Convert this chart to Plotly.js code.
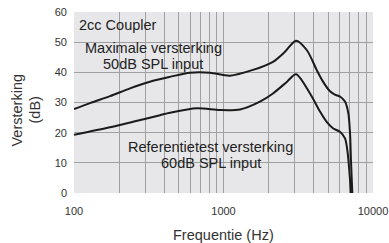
<!DOCTYPE html>
<html>
<head>
<meta charset="utf-8">
<script src="https://cdn.plot.ly/plotly-3.0.1.min.js"></script>
<style>
html,body{margin:0;padding:0;background:#fff;}
#chart{width:389px;height:243px;}
</style>
</head>
<body>
<div id="chart"></div>
<script>
// Maximale versterking (50dB SPL input)
const freqMax = [100,128,174,237,322,438,597,812,1104,1573,2143,2576,3055,3604,4201,4620,5137,5560,6010,6497,6840,7020,7120,7270];
const dbMax   = [27.8,29.8,32.1,34.7,36.9,38.5,39.9,39.9,38.9,40.8,43.5,46.8,50.5,47.4,40.8,37.0,33.8,32.6,32.0,30.3,26.4,19.8,11.0,0];
// Referentietest versterking (60dB SPL input)
const freqRef = [100,174,248,376,438,665,948,1290,1753,2143,2661,3055,3791,4420,4899,5423,6010,6497,6730,6940,7120];
const dbRef   = [19.3,21.8,23.6,25.8,26.6,28.1,27.5,27.7,30.3,33.0,36.9,39.4,33.0,27.0,23.6,21.4,20.3,18.1,14.3,7.6,0];

const xTickVals = [100,200,300,400,500,600,700,800,900,1000,2000,3000,4000,5000,6000,7000,8000,9000,10000];
const xTickText = ['100','','','','','','','','','1000','','','','','','','','','10000'];
const yTickVals = [0,10,20,30,40,50,60];
const yTickText = ['0','10','20','30','40','50','60'];

const labelCoupler = '2cc Coupler';
const labelMax = ['Maximale versterking', '50dB SPL input'];
const labelRef = ['Referentietest versterking', '60dB SPL input'];
const xTitle = 'Frequentie (Hz)';
const yTitle = ['Versterking', '(dB)'];

const lineStyle = {color:'#1a1a1a', width:2, shape:'spline', smoothing:0.8};

const traces = [
  {x:freqMax, y:dbMax, mode:'lines', line:lineStyle, hoverinfo:'skip'},
  {x:freqRef, y:dbRef, mode:'lines', line:lineStyle, hoverinfo:'skip'}
];

const fam = '"Liberation Sans", Arial, sans-serif';
const PL = 74, PW = 299, PB = 193, PH = 181;
const px = v => (v - PL) / PW;
const py = v => (PB - v) / PH;
const txt = (text, x, y, opts) => Object.assign({
  text, xref:'paper', yref:'paper', x:px(x), y:py(y), xanchor:'center', yanchor:'middle',
  showarrow:false, font:{size:14.5, color:'#222', family:fam}
}, opts || {});

const layout = {
  width:389, height:243,
  margin:{l:74, r:16, t:12, b:50},
  paper_bgcolor:'#ffffff',
  plot_bgcolor:'#e7e7e9',
  showlegend:false,
  font:{family:fam, color:'#333'},
  xaxis:{
    type:'log', range:[2,4],
    tickmode:'array', tickvals:xTickVals, ticktext:xTickText,
    showgrid:true, gridcolor:'#a0a0a0', gridwidth:1,
    zeroline:false, showline:false, ticks:'',
    tickfont:{size:11, color:'#333', family:fam},
    ticklabelstandoff:10
  },
  yaxis:{
    range:[0,60],
    tickmode:'array', tickvals:yTickVals, ticktext:yTickText,
    showgrid:true, gridcolor:'#a0a0a0', gridwidth:1,
    zeroline:false, showline:false, ticks:'',
    tickfont:{size:11, color:'#333', family:fam},
    ticklabelstandoff:6
  },
  annotations:[
    txt(labelCoupler, 77, 25, {xanchor:'left'}),
    txt(labelMax[0], 153, 47.5),
    txt(labelMax[1], 153, 63.5),
    txt(labelRef[0], 210.5, 146.5),
    txt(labelRef[1], 210.5, 162.5),
    txt(xTitle, 223.5, 235, {font:{size:14.5, color:'#333', family:fam}}),
    txt(yTitle[0], 16, 110.5, {textangle:-90, font:{size:14.5, color:'#333', family:fam}}),
    txt(yTitle[1], 34, 110.5, {textangle:-90, font:{size:14.5, color:'#333', family:fam}})
  ]
};

Plotly.newPlot('chart', traces, layout, {displayModeBar:false, staticPlot:true});
</script>
</body>
</html>
